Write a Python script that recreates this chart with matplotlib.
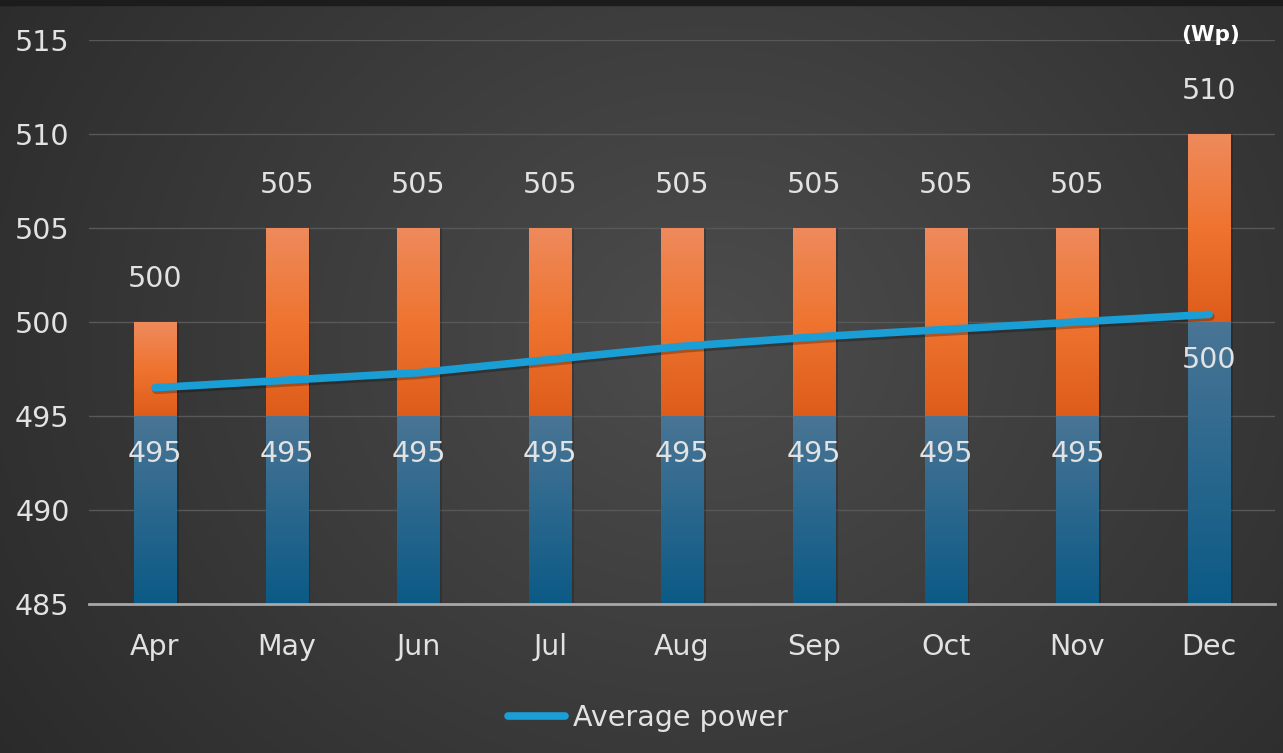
import numpy as np
import matplotlib
matplotlib.use("Agg")
import matplotlib.pyplot as plt
from matplotlib.colors import LinearSegmentedColormap

months = ["Apr", "May", "Jun", "Jul", "Aug", "Sep", "Oct", "Nov", "Dec"]
min_power = [495, 495, 495, 495, 495, 495, 495, 495, 500]
max_power = [500, 505, 505, 505, 505, 505, 505, 505, 510]
avg_power = [496.5, 496.9, 497.3, 498.0, 498.7, 499.2, 499.6, 500.0, 500.4]
y_ticks = [485, 490, 495, 500, 505, 510, 515]
unit_label = "(Wp)"
legend_label = "Average power"

plt.rcParams['font.family'] = ['DejaVu Sans']
FS = 20.5
W, H = 12.83, 7.53
fig = plt.figure(figsize=(W, H), dpi=100)

# background gradient
bg = fig.add_axes([0, 0, 1, 1], zorder=-10)
yy, xx = np.mgrid[0:1:300j, 0:1:500j]
r = np.sqrt(((xx - 0.55) / 0.75) ** 2 + ((yy - 0.55) / 1.1) ** 2)
val = 0.30 - 0.15 * r
val = np.clip(val, 0.13, 0.31)
img = np.dstack([val, val, val])
bg.imshow(img, extent=[0, 1, 0, 1], aspect='auto', origin='lower')
bg.axhspan(0.993, 1.0, color='#1c1c1c')
bg.set_xlim(0, 1); bg.set_ylim(0, 1)
bg.axis('off')

ax = fig.add_axes([0.0694, 0.198, 0.9244, 0.749])
ax.set_facecolor('none')
x = np.arange(len(months))
bw = 0.32
base = 485
blue_h = [m - base for m in min_power]
orange_h = [mx - mn for mx, mn in zip(max_power, min_power)]

blue_cmap = LinearSegmentedColormap.from_list('b', ['#0b5a86', '#4a7595'])
orange_cmap = LinearSegmentedColormap.from_list('o', ['#de5c1a', '#ef7430', '#ee8a5c'])

def grad_bars(bars, cmap):
    grad = np.linspace(0, 1, 256).reshape(-1, 1)
    for b in bars:
        x0, y0 = b.get_x(), b.get_y()
        w, h = b.get_width(), b.get_height()
        im = ax.imshow(grad, cmap=cmap, aspect='auto', origin='lower',
                       extent=[x0, x0 + w, y0, y0 + h], zorder=b.get_zorder())
        im.set_clip_path(b)

# shadows
ax.bar(x + 0.02, np.array(blue_h) + np.array(orange_h), bw, bottom=base,
       color='black', alpha=0.18, zorder=1.5)
b1 = ax.bar(x, blue_h, bw, bottom=base, color='#1d6690', zorder=2)
b2 = ax.bar(x, orange_h, bw, bottom=min_power, color='#ea6e2a', zorder=2)
grad_bars(b1, blue_cmap)
grad_bars(b2, orange_cmap)

# line shadow and line
ax.plot(x + 0.01, np.array(avg_power) - 0.12, color='black', alpha=0.25, lw=6,
        solid_capstyle='round', zorder=3)
line, = ax.plot(x, avg_power, color='#1a9ed6', lw=5.5, solid_capstyle='round',
                zorder=4, label=legend_label)

for xi, mn, mx in zip(x, min_power, max_power):
    ax.annotate(f"{mx}", (xi, mx), xytext=(0, 21), textcoords='offset points',
                ha='center', va='bottom', color='#e2e2e2', fontsize=FS, zorder=5)
    ax.annotate(f"{mn}", (xi, mn), xytext=(0, -17), textcoords='offset points',
                ha='center', va='top', color='#e2e2e2', fontsize=FS, zorder=5)

ax.set_xlim(-0.5, len(months) - 0.5)
ax.set_ylim(485, 515)
ax.set_yticks(y_ticks)
ax.set_xticks(x)
ax.set_xticklabels(months)
ax.tick_params(axis='both', length=0, colors='#e2e2e2', labelsize=FS)
ax.tick_params(axis='y', pad=14)
ax.tick_params(axis='x', pad=21)
ax.grid(axis='y', color='#585858', lw=1.0, zorder=0)
ax.set_axisbelow(True)
for s in ['top', 'right', 'left']:
    ax.spines[s].set_visible(False)
ax.spines['bottom'].set_color('#a8a8a8')
ax.spines['bottom'].set_linewidth(2)
ax.spines['bottom'].set_zorder(6)

fig.text(0.9435, 0.953, unit_label, ha='center', va='center', color='white',
         fontsize=15.5, fontweight='bold')

leg = fig.legend(handles=[line], loc='center', bbox_to_anchor=(0.505, 0.047),
                 frameon=False, fontsize=FS, labelcolor='#e2e2e2',
                 handlelength=2.0, handletextpad=0.25)

fig.savefig('out.png', dpi=100)
